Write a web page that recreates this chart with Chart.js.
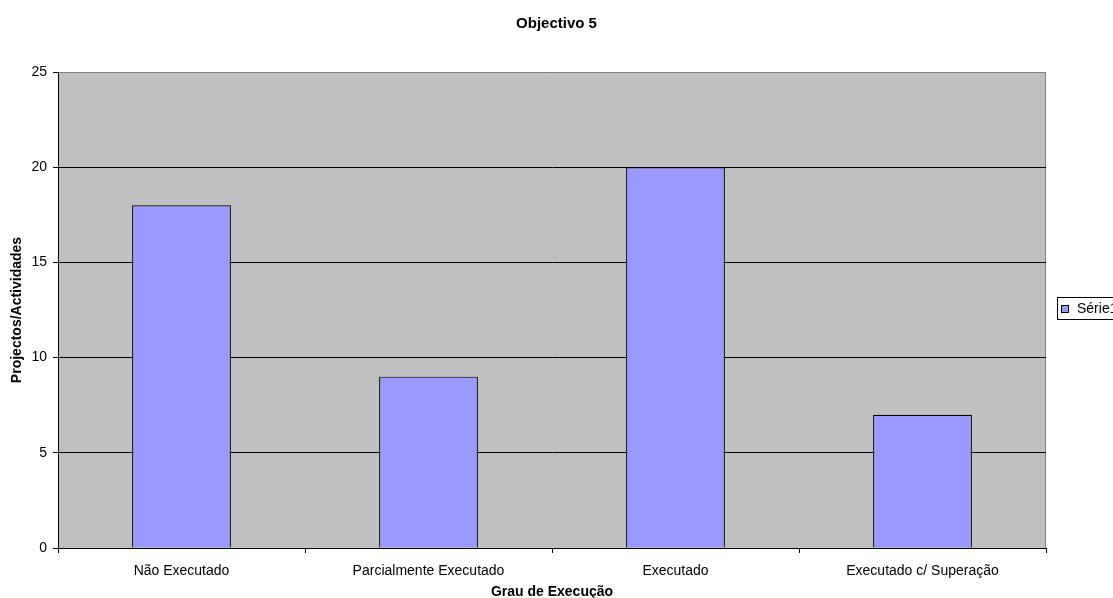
<!DOCTYPE html>
<html>
<head>
<meta charset="utf-8">
<script src="https://cdn.jsdelivr.net/npm/chart.js@4/dist/chart.umd.min.js"></script>
<style>
  html, body { margin: 0; padding: 0; background: #fff; }
  #wrap { width: 1113px; height: 598px; }
</style>
</head>
<body>
<div id="wrap"><canvas id="chart"></canvas></div>
<script>
const categories = ["Não Executado", "Parcialmente Executado", "Executado", "Executado c/ Superação"];
const serie1 = [18, 9, 20, 7];
const yTicks = [0, 5, 10, 15, 20, 25];

const FONT = "'Liberation Sans', Arial, sans-serif";
Chart.defaults.font.family = FONT;
Chart.defaults.font.size = 14;
Chart.defaults.color = "#000";

// fundo cinzento da área do gráfico + legenda à direita (cortada, como no original)
const plotBg = {
    id: "plotBg",
    beforeDraw(chart) {
        const { ctx, chartArea: a } = chart;
        ctx.save();
        ctx.fillStyle = "#C0C0C0";
        ctx.fillRect(a.left, a.top, a.right - a.left, a.bottom - a.top);
        ctx.strokeStyle = "#808080";
        ctx.lineWidth = 1;
        ctx.beginPath();
        ctx.moveTo(a.left, a.top + 0.5);
        ctx.lineTo(a.right - 0.5, a.top + 0.5);
        ctx.lineTo(a.right - 0.5, a.bottom);
        ctx.stroke();
        ctx.restore();
    },
    afterDraw(chart) {
        const { ctx, chartArea: a } = chart;
        const ds = chart.data.datasets[0];
        const x0 = a.right + 11, yc = (a.top + a.bottom) / 2 - 2;
        ctx.save();
        ctx.strokeStyle = "#000";
        ctx.lineWidth = 1;
        ctx.strokeRect(x0 + 0.5, yc - 10.5, 70, 22);
        ctx.fillStyle = ds.backgroundColor;
        ctx.fillRect(x0 + 4, yc - 3, 8, 8);
        ctx.strokeRect(x0 + 4.5, yc - 2.5, 7, 7);
        ctx.fillStyle = "#000";
        ctx.font = "14px " + FONT;
        ctx.textBaseline = "middle";
        ctx.fillText(ds.label, x0 + 20, yc + 1);
        ctx.restore();
    }
};

new Chart(document.getElementById("chart").getContext("2d"), {
    type: "bar",
    data: {
        labels: categories,
        datasets: [{
            label: "Série1",
            data: serie1,
            backgroundColor: "#9999FF",
            borderColor: "#000",
            borderWidth: 1.2,
            barPercentage: 0.4,
            categoryPercentage: 1
        }]
    },
    options: {
        responsive: true,
        maintainAspectRatio: false,
        animation: false,
        layout: { padding: 0 },
        plugins: {
            title: {
                display: true,
                text: "Objectivo 5",
                font: { size: 15, weight: "bold" },
                padding: { top: 15, bottom: 39 }
            },
            legend: { display: false },
            tooltip: { enabled: false }
        },
        scales: {
            x: {
                offset: true,
                grid: {
                    offset: true,
                    drawOnChartArea: false,
                    drawTicks: true,
                    tickLength: 5,
                    color: "#000"
                },
                border: { color: "#000", width: 1 },
                ticks: { padding: 10, maxRotation: 0, autoSkip: false },
                title: {
                    display: true,
                    text: "Grau de Execução",
                    font: { size: 14, weight: "bold" },
                    padding: { top: 2, bottom: -3 }
                },
                afterFit(scale) { scale.height = 50; }
            },
            y: {
                min: 0,
                max: 25,
                afterBuildTicks(scale) { scale.ticks = yTicks.map(v => ({ value: v })); },
                grid: {
                    color: ctx => ctx.tick && ctx.tick.value === 25 ? "rgba(0,0,0,0)" : "#000",
                    drawTicks: true,
                    tickLength: 5,
                    tickColor: "#000"
                },
                border: { color: "#000", width: 1 },
                ticks: { padding: 6 },
                title: {
                    display: true,
                    text: "Projectos/Actividades",
                    font: { size: 14, weight: "bold" },
                    padding: { top: 9, bottom: 0 }
                },
                afterFit(scale) { scale.width = 58; }
            },
            // espaço reservado para a legenda (não desenha nada)
            legendSpace: {
                position: "right",
                ticks: { display: false },
                grid: { display: false },
                border: { display: false },
                afterFit(scale) { scale.width = 67; }
            }
        }
    },
    plugins: [plotBg]
});
</script>
</body>
</html>
